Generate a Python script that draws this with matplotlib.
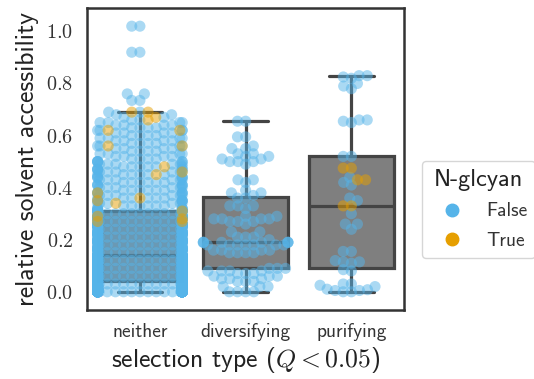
import numpy as np
import pandas as pd
import matplotlib
matplotlib.use("Agg")
import matplotlib.pyplot as plt
from matplotlib.lines import Line2D
import seaborn as sns

sns.set_style("white")
plt.rcParams['font.family'] = ['cmss10', 'DejaVu Sans']
plt.rcParams['mathtext.fontset'] = 'cm'
plt.rcParams['axes.unicode_minus'] = False

categories = ['neither', 'diversifying', 'purifying']

# "neither" has too many sites to list one by one: value -> number of sites
neither_vals = [0.00, 0.01, 0.02, 0.03, 0.04,
                0.05, 0.06, 0.07, 0.08, 0.09, 0.10, 0.11, 0.12, 0.13, 0.14,
                0.15, 0.16, 0.17, 0.18, 0.19, 0.20, 0.21, 0.22, 0.23, 0.24,
                0.25, 0.26, 0.27, 0.28, 0.29, 0.30, 0.31,
                0.32, 0.33, 0.34, 0.35, 0.36, 0.37, 0.38, 0.39, 0.40, 0.41,
                0.42, 0.43, 0.44, 0.45, 0.46, 0.47, 0.48, 0.49, 0.50,
                0.51, 0.52, 0.53, 0.54, 0.55, 0.56, 0.57, 0.58, 0.59, 0.60,
                0.61, 0.62, 0.63, 0.64, 0.65, 0.66, 0.67, 0.68, 0.69,
                0.735, 0.76, 0.92, 1.02]
neither_count = [105, 44, 32, 24, 20,
                 21, 21, 21, 21, 21, 21, 21, 21, 21, 21,
                 12, 12, 12, 12, 12, 12, 12, 12, 12, 12,
                 12, 12, 12, 12, 12, 12, 12,
                 6, 6, 6, 6, 6, 6, 6, 6, 6, 6,
                 6, 6, 6, 6, 6, 6, 6, 6, 6,
                 4, 4, 4, 4, 4, 4, 4, 4, 4, 4,
                 4, 4, 4, 4, 4, 2, 2, 2, 2,
                 2, 2, 2, 2]
neither_glyc = [0.69, 0.69, 0.67, 0.66, 0.62, 0.62, 0.56, 0.56, 0.48, 0.46,
                0.45, 0.38, 0.36, 0.35, 0.34, 0.31, 0.29, 0.28, 0.27, 0.27]

diversifying_vals = [0.655, 0.655, 0.595, 0.595, 0.55, 0.55, 0.56,
                     0.53, 0.52, 0.52, 0.51, 0.51, 0.50, 0.50, 0.50, 0.49, 0.53,
                     0.43, 0.43, 0.42, 0.39, 0.38, 0.38, 0.37, 0.36, 0.36,
                     0.33, 0.33, 0.32, 0.33,
                     0.29, 0.29, 0.28, 0.28, 0.28, 0.27, 0.27, 0.27, 0.26, 0.28,
                     0.23, 0.23, 0.21, 0.21, 0.21, 0.20,
                     0.19, 0.19, 0.19, 0.19, 0.19, 0.19, 0.19, 0.19,
                     0.18, 0.18, 0.18, 0.18, 0.18, 0.18, 0.18,
                     0.16, 0.16, 0.16, 0.16, 0.15, 0.15, 0.15, 0.15,
                     0.09, 0.09, 0.09, 0.08, 0.08, 0.08, 0.08, 0.07, 0.07, 0.07,
                     0.06, 0.06, 0.06, 0.05, 0.05, 0.05, 0.04, 0.04, 0.04,
                     0.02, 0.02, 0.02, 0.0, 0.0, 0.0, 0.0]
diversifying_glyc = []

purifying_vals = [0.83, 0.83, 0.825, 0.82, 0.80, 0.79, 0.78,
                  0.66, 0.66, 0.655, 0.65, 0.52, 0.52,
                  0.44, 0.42, 0.41, 0.36, 0.35, 0.30, 0.26, 0.26, 0.24,
                  0.155, 0.155, 0.12, 0.115, 0.11, 0.115, 0.085, 0.08,
                  0.03, 0.025, 0.02, 0.03,
                  0.01, 0.008, 0.005, 0.0, 0.0, 0.005]
purifying_glyc = [0.475, 0.475, 0.43, 0.43, 0.33, 0.33]

rows = []
for v, n in zip(neither_vals, neither_count):
    rows += [('neither', v, False)] * n
rows += [('diversifying', v, False) for v in diversifying_vals]
rows += [('purifying', v, False) for v in purifying_vals]
rows += [('neither', v, True) for v in neither_glyc]
rows += [('diversifying', v, True) for v in diversifying_glyc]
rows += [('purifying', v, True) for v in purifying_glyc]
df = pd.DataFrame(rows, columns=['selection', 'rsa', 'glyc'])

fig = plt.figure(figsize=(5.34, 3.79), dpi=100)
ax = fig.add_axes([0.163, 0.182, 0.594, 0.797])

edge = '#444444'
groups = [df.loc[df.selection == c, 'rsa'].values for c in categories]
ax.boxplot(groups, positions=[0, 1, 2], widths=0.8, patch_artist=True,
           showfliers=False, whis=1.5, capwidths=0.42, zorder=0.5,
           boxprops=dict(facecolor='#7f7f7f', edgecolor=edge, linewidth=2.3),
           medianprops=dict(color=edge, linewidth=2.3),
           whiskerprops=dict(color=edge, linewidth=2.3),
           capprops=dict(color=edge, linewidth=2.3))

colors = {False: '#56B4E9', True: '#E69F00'}
ax.set_xlim(-0.5, 2.5)
ax.set_ylim(-0.07, 1.09)
# lay the swarm out with small markers, then draw bigger overlapping ones
sns.swarmplot(data=df, x='selection', y='rsa', hue='glyc', order=categories,
              hue_order=[False, True], palette=colors, size=5.6,
              linewidth=0, legend=False, ax=ax)
fig.canvas.draw()
for coll in list(ax.collections):
    off = np.asarray(coll.get_offsets())
    fc = np.asarray(coll.get_facecolors())[:, :3]
    coll.remove()
    ax.scatter(off[:, 0], off[:, 1], c=fc, s=64, alpha=0.5, linewidths=0,
               zorder=2)

ax.set_xlim(-0.5, 2.5)
ax.set_ylim(-0.07, 1.09)
ax.set_xticks([0, 1, 2])
ax.set_xticklabels(categories, fontsize=14, color='#333333')
yt = [0.0, 0.2, 0.4, 0.6, 0.8, 1.0]
ax.set_yticks(yt)
ax.set_yticklabels(['$%.1f$' % v for v in yt], fontsize=14.5, color='#333333')
ax.tick_params(axis='x', pad=9, length=0)
ax.tick_params(axis='y', pad=10, length=0)
ax.set_xlabel('selection type ($Q < 0.05$)', fontsize=18.5, color='#222222',
              labelpad=3)
ax.set_ylabel('relative solvent accessibility', fontsize=18.5, color='#222222',
              labelpad=5)
for s in ax.spines.values():
    s.set_color('#333333')
    s.set_linewidth(1.8)

handles = [Line2D([], [], marker='o', ls='', color=colors[False], markersize=9),
           Line2D([], [], marker='o', ls='', color=colors[True], markersize=9)]
leg = ax.legend(handles, ['False', 'True'], title='N-glcyan', loc='center left',
                bbox_to_anchor=(1.025, 0.333), fontsize=14, title_fontsize=17.5,
                handlelength=2.3, handletextpad=0.6, labelspacing=0.6,
                frameon=True)
leg.get_frame().set_edgecolor('#cccccc')
for t in leg.get_texts():
    t.set_color('#333333')
leg.get_title().set_color('#222222')

fig.savefig('out.png', dpi=100)
